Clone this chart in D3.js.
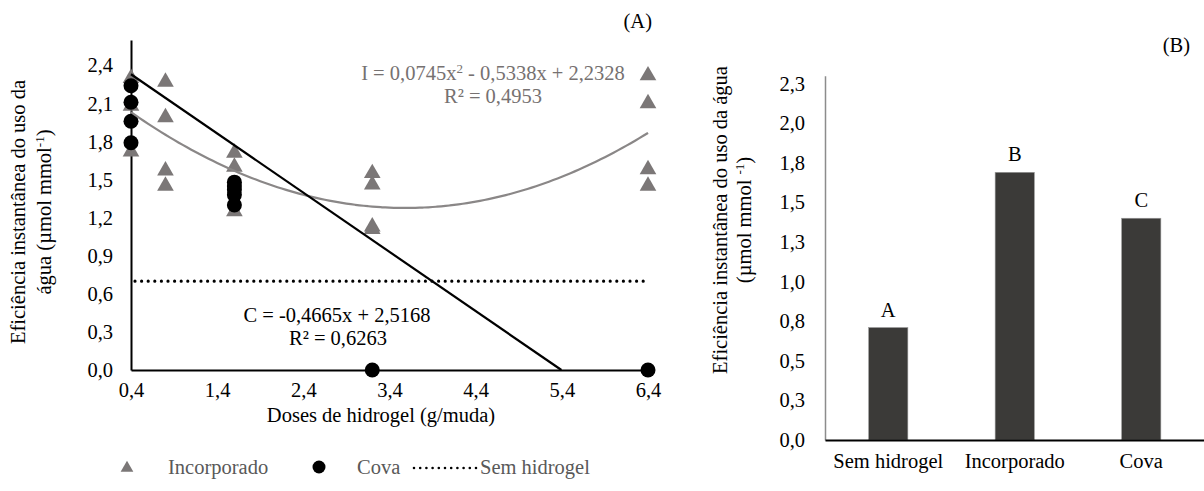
<!DOCTYPE html>
<html>
<head>
<meta charset="utf-8">
<script src="https://cdn.jsdelivr.net/npm/d3@7"></script>
<style>
  body { margin: 0; background: #fff; }
  svg text { font-family: "Liberation Serif", "Times New Roman", serif; }
</style>
</head>
<body>
<div id="chart"></div>
<script>
// ---- dados do gráfico (A) ----
const doses = [0.4, 0.8, 1.6, 3.2, 6.4];
const incorporado = [
  [2.30, 2.08, 1.72],
  [2.27, 1.99, 1.57, 1.45],
  [1.71, 1.60, 1.25],
  [1.55, 1.46, 1.13, 1.11],
  [2.32, 2.10, 1.58, 1.45]
];
const cova = [
  [2.24, 2.11, 1.96, 1.79],
  [],
  [1.48, 1.45, 1.42, 1.38, 1.30],
  [0],
  [0]
];
const semHidrogel = 0.7;
// coeficientes das linhas de tendência (equações do gráfico)
const coefI = [0.0745, -0.5338, 2.2328];
const coefC = [-0.4665, 2.5168];
const xTicksA = [0.4, 1.4, 2.4, 3.4, 4.4, 5.4, 6.4];
const xLabelsA = ["0,4", "1,4", "2,4", "3,4", "4,4", "5,4", "6,4"];
const yTicksA = [0, 0.3, 0.6, 0.9, 1.2, 1.5, 1.8, 2.1, 2.4];
const yLabelsA = ["0,0", "0,3", "0,6", "0,9", "1,2", "1,5", "1,8", "2,1", "2,4"];

// ---- dados do gráfico (B) ----
const categoriasB = ["Sem hidrogel", "Incorporado", "Cova"];
const valoresB = [0.71, 1.69, 1.40];
const letrasB = ["A", "B", "C"];
const yTicksB = [0, 0.25, 0.5, 0.75, 1.0, 1.25, 1.5, 1.75, 2.0, 2.25];
const yLabelsB = ["0,0", "0,3", "0,5", "0,8", "1,0", "1,3", "1,5", "1,8", "2,0", "2,3"];

const width = 1204, height = 491;
const fs = 20.5;
const grayMarker = "#7b7777";

const svg = d3.select("#chart").append("svg")
  .attr("width", width)
  .attr("height", height);

svg.append("rect").attr("width", width).attr("height", height).attr("fill", "#fff");

// =================== Gráfico A ===================
const xA = d3.scaleLinear().domain([0.4, 6.4]).range([131, 648]);
const yA = d3.scaleLinear().domain([0, 2.6]).range([370, 40]);

const gA = svg.append("g");

// eixos
const xAxisA = d3.axisBottom(xA)
  .tickValues(xTicksA)
  .tickSize(0)
  .tickPadding(12)
  .tickFormat((d, i) => xLabelsA[i]);
const yAxisA = d3.axisLeft(yA)
  .tickValues(yTicksA)
  .tickSize(0)
  .tickPadding(18)
  .tickFormat((d, i) => yLabelsA[i]);

gA.append("g")
  .attr("transform", `translate(0,${yA(0)})`)
  .call(xAxisA)
  .call(g => g.select(".domain").attr("stroke", "#000").attr("stroke-width", 2))
  .selectAll("text").style("font-size", fs + "px").attr("fill", "#000");

gA.append("g")
  .attr("transform", `translate(${xA(0.4)},0)`)
  .call(yAxisA)
  .call(g => g.select(".domain").attr("stroke", "#000").attr("stroke-width", 2))
  .selectAll("text").style("font-size", fs + "px").attr("fill", "#000");

// títulos dos eixos
gA.append("text")
  .attr("x", 381).attr("y", 422)
  .attr("text-anchor", "middle")
  .style("font-size", fs + "px")
  .text("Doses de hidrogel (g/muda)");

const yTitleA = gA.append("text")
  .attr("transform", "translate(0,212) rotate(-90)")
  .attr("text-anchor", "middle")
  .style("font-size", fs + "px");
yTitleA.append("tspan").attr("x", 0).attr("y", 25).text("Eficiência instantânea do uso da");
const l2 = yTitleA.append("tspan").attr("x", 0).attr("y", 51);
l2.append("tspan").text("água (µmol mmol");
l2.append("tspan").attr("dy", -7).style("font-size", "13px").text("-1");
l2.append("tspan").attr("dy", 7).text(")");

// pontos Incorporado
const triangulo = d3.symbol().type(d3.symbolTriangle).size(120);
const ptsI = [];
doses.forEach((x, i) => incorporado[i].forEach(v => ptsI.push({x, v})));
gA.append("g").selectAll("path")
  .data(ptsI)
  .join("path")
  .attr("d", triangulo)
  .attr("transform", d => `translate(${xA(d.x)},${yA(d.v)})`)
  .attr("fill", grayMarker);

// pontos Cova
const ptsC = [];
doses.forEach((x, i) => cova[i].forEach(v => ptsC.push({x, v})));
gA.append("g").selectAll("circle")
  .data(ptsC)
  .join("circle")
  .attr("cx", d => xA(d.x))
  .attr("cy", d => yA(d.v))
  .attr("r", 7.5)
  .attr("fill", "#000");

// linha Sem hidrogel
gA.append("line")
  .attr("x1", xA(0.4) + 4).attr("x2", xA(6.4))
  .attr("y1", yA(semHidrogel)).attr("y2", yA(semHidrogel))
  .attr("stroke", "#000")
  .attr("stroke-width", 3.2)
  .attr("stroke-linecap", "round")
  .attr("stroke-dasharray", "0 6.6");

// tendência Incorporado (polinomial)
const xsI = d3.range(0.4, 6.4001, 0.05);
const lineA = d3.line().x(d => xA(d[0])).y(d => yA(d[1])).curve(d3.curveMonotoneX);
gA.append("path")
  .datum(xsI.map(x => [x, coefI[0] * x * x + coefI[1] * x + coefI[2]]))
  .attr("d", lineA)
  .attr("fill", "none")
  .attr("stroke", "#8a8787")
  .attr("stroke-width", 2.2);

// tendência Cova (linear, até y = 0)
const xZero = -coefC[1] / coefC[0];
gA.append("path")
  .datum([0.4, xZero].map(x => [x, coefC[0] * x + coefC[1]]))
  .attr("d", lineA)
  .attr("fill", "none")
  .attr("stroke", "#000")
  .attr("stroke-width", 2.2);

// equações
const eqI = gA.append("text")
  .attr("x", 493).attr("y", 80)
  .attr("text-anchor", "middle")
  .attr("fill", "#767171")
  .style("font-size", fs + "px");
eqI.append("tspan").text("I = 0,0745x");
eqI.append("tspan").attr("dy", -7).style("font-size", "13px").text("2");
eqI.append("tspan").attr("dy", 7).text(" - 0,5338x + 2,2328");
gA.append("text")
  .attr("x", 493).attr("y", 103)
  .attr("text-anchor", "middle")
  .attr("fill", "#767171")
  .style("font-size", fs + "px")
  .text("R² = 0,4953");

gA.append("text")
  .attr("x", 337).attr("y", 322)
  .attr("text-anchor", "middle")
  .style("font-size", fs + "px")
  .text("C = -0,4665x + 2,5168");
gA.append("text")
  .attr("x", 338).attr("y", 345)
  .attr("text-anchor", "middle")
  .style("font-size", fs + "px")
  .text("R² = 0,6263");

gA.append("text")
  .attr("x", 652).attr("y", 28)
  .attr("text-anchor", "end")
  .style("font-size", fs + "px")
  .text("(A)");

// legenda
const leg = gA.append("g").attr("transform", "translate(0,467)");
leg.append("path").attr("d", d3.symbol().type(d3.symbolTriangle).size(70))
  .attr("transform", "translate(127,1)").attr("fill", grayMarker);
leg.append("text").attr("x", 168).attr("y", 7).attr("fill", "#595959")
  .style("font-size", fs + "px").text("Incorporado");
leg.append("circle").attr("cx", 319).attr("cy", 0).attr("r", 6.5).attr("fill", "#000");
leg.append("text").attr("x", 357).attr("y", 7).attr("fill", "#595959")
  .style("font-size", fs + "px").text("Cova");
leg.append("line").attr("x1", 414).attr("x2", 476).attr("y1", 1).attr("y2", 1)
  .attr("stroke", "#000").attr("stroke-width", 2.6)
  .attr("stroke-linecap", "round").attr("stroke-dasharray", "0 6.2");
leg.append("text").attr("x", 480).attr("y", 7).attr("fill", "#595959")
  .style("font-size", fs + "px").text("Sem hidrogel");

// =================== Gráfico B ===================
const xB = d3.scaleBand().domain(categoriasB).range([825, 1204.5]).padding(0);
const yB = d3.scaleLinear().domain([0, 2.3]).range([440, 440 - 2.3 * 158.4]);
const gB = svg.append("g");

gB.append("g")
  .attr("transform", `translate(825,0)`)
  .call(d3.axisLeft(yB).tickValues(yTicksB).tickSize(0).tickPadding(20)
    .tickFormat((d, i) => yLabelsB[i]))
  .call(g => g.select(".domain").attr("stroke", "#8c8c8c").attr("stroke-width", 1.5))
  .selectAll("text").style("font-size", fs + "px").attr("fill", "#000");

const barW = xB.bandwidth() * 0.31;
gB.append("g").selectAll("rect")
  .data(valoresB)
  .join("rect")
  .attr("x", (d, i) => xB(categoriasB[i]) + xB.bandwidth() / 2 - barW / 2)
  .attr("y", d => yB(d))
  .attr("width", barW)
  .attr("height", d => yB(0) - yB(d))
  .attr("fill", "#3b3a38")
  .attr("stroke", "#9a9a9a")
  .attr("stroke-width", 0.6);

gB.append("g").selectAll("text")
  .data(valoresB)
  .join("text")
  .attr("x", (d, i) => xB(categoriasB[i]) + xB.bandwidth() / 2)
  .attr("y", d => yB(d) - 11)
  .attr("text-anchor", "middle")
  .style("font-size", fs + "px")
  .text((d, i) => letrasB[i]);

gB.append("g")
  .attr("transform", `translate(0,${yB(0)})`)
  .call(d3.axisBottom(xB).tickSize(0).tickSizeOuter(0).tickPadding(13))
  .call(g => g.select(".domain").attr("stroke", "#000").attr("stroke-width", 2))
  .selectAll("text").style("font-size", fs + "px").attr("fill", "#000");

const yTitleB = gB.append("text")
  .attr("transform", "translate(0,220) rotate(-90)")
  .attr("text-anchor", "middle")
  .style("font-size", fs + "px");
yTitleB.append("tspan").attr("x", 0).attr("y", 727).text("Eficiência instantânea do uso da água");
const lb2 = yTitleB.append("tspan").attr("x", 0).attr("y", 751);
lb2.append("tspan").text("(µmol mmol ");
lb2.append("tspan").attr("dy", -7).style("font-size", "13px").text("-1");
lb2.append("tspan").attr("dy", 7).text(")");

gB.append("text")
  .attr("x", 1190).attr("y", 52)
  .attr("text-anchor", "end")
  .style("font-size", fs + "px")
  .text("(B)");
</script>
</body>
</html>
